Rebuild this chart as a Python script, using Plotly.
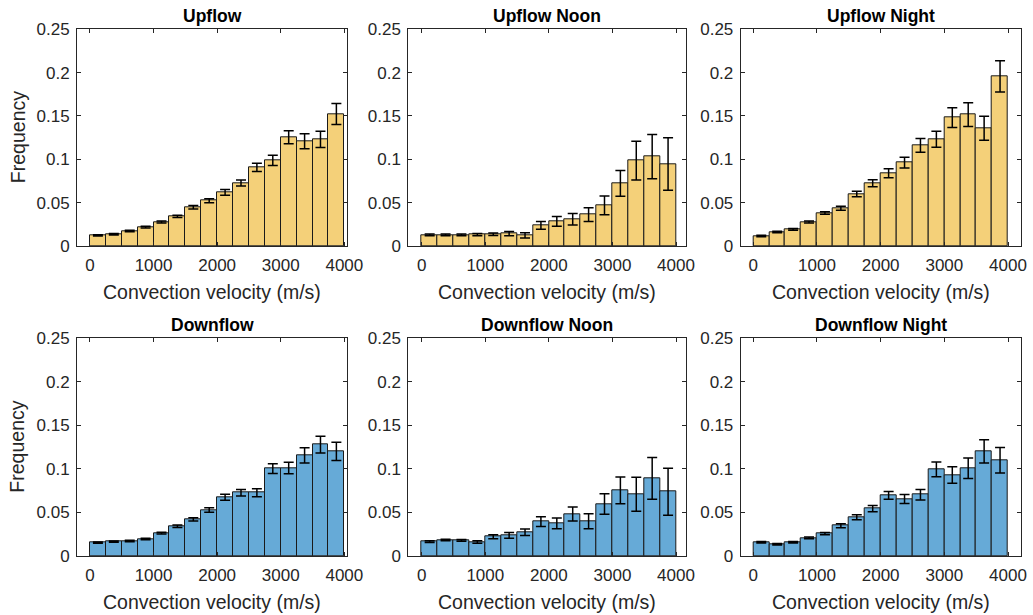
import plotly.graph_objects as go

# ---------------- data ----------------
bin_centers = [125, 375, 625, 875, 1125, 1375, 1625, 1875, 2125, 2375, 2625, 2875, 3125, 3375, 3625, 3875]
bin_width = 250

titles = ["Upflow", "Upflow Noon", "Upflow Night", "Downflow", "Downflow Noon", "Downflow Night"]

upflow = [0.0123, 0.0135, 0.0173, 0.0219, 0.0277, 0.0342, 0.0446, 0.0523,
          0.0619, 0.0727, 0.0908, 0.0988, 0.1254, 0.1208, 0.1231, 0.1523]
upflow_err = [0.0008, 0.0008, 0.0009, 0.0010, 0.0012, 0.0014, 0.0020, 0.0023,
              0.0033, 0.0035, 0.0048, 0.0058, 0.0075, 0.0087, 0.0094, 0.0120]

upflow_noon = [0.0127, 0.0127, 0.0127, 0.0130, 0.0135, 0.0142, 0.0123, 0.0238,
               0.0285, 0.0308, 0.0362, 0.0469, 0.0723, 0.0985, 0.1031, 0.0946]
upflow_noon_err = [0.0010, 0.0010, 0.0010, 0.0013, 0.0015, 0.0025, 0.0030, 0.0044,
                   0.0056, 0.0067, 0.0080, 0.0108, 0.0148, 0.0223, 0.0254, 0.0304]

upflow_night = [0.0115, 0.0162, 0.0192, 0.0277, 0.0381, 0.0435, 0.0600, 0.0723,
                0.0838, 0.0962, 0.1162, 0.1231, 0.1481, 0.1515, 0.1358, 0.1958]
upflow_night_err = [0.0009, 0.0009, 0.0010, 0.0012, 0.0015, 0.0023, 0.0033, 0.0040,
                    0.0052, 0.0063, 0.0079, 0.0092, 0.0115, 0.0137, 0.0138, 0.0180]

downflow = [0.0153, 0.0165, 0.0172, 0.0195, 0.0264, 0.0341, 0.0421, 0.0528,
            0.0674, 0.0727, 0.0727, 0.1003, 0.1011, 0.1156, 0.1279, 0.1202]
downflow_err = [0.0007, 0.0007, 0.0008, 0.0008, 0.0010, 0.0015, 0.0018, 0.0027,
                0.0034, 0.0038, 0.0046, 0.0057, 0.0067, 0.0088, 0.0096, 0.0105]

downflow_noon = [0.0165, 0.0184, 0.0180, 0.0161, 0.0222, 0.0237, 0.0272, 0.0394,
                 0.0375, 0.0482, 0.0398, 0.0597, 0.0754, 0.0708, 0.0892, 0.0739]
downflow_noon_err = [0.0010, 0.0008, 0.0010, 0.0015, 0.0023, 0.0033, 0.0038, 0.0056,
                     0.0061, 0.0080, 0.0086, 0.0117, 0.0153, 0.0195, 0.0240, 0.0270]

downflow_night = [0.0157, 0.0134, 0.0157, 0.0207, 0.0257, 0.0348, 0.0444, 0.0544,
                  0.0697, 0.0655, 0.0704, 0.0995, 0.0930, 0.1007, 0.1202, 0.1099]
downflow_night_err = [0.0009, 0.0009, 0.0009, 0.0010, 0.0012, 0.0023, 0.0029, 0.0036,
                      0.0044, 0.0052, 0.0061, 0.0084, 0.0094, 0.0117, 0.0134, 0.0147]

series = [upflow, upflow_noon, upflow_night, downflow, downflow_noon, downflow_night]
errors = [upflow_err, upflow_noon_err, upflow_night_err, downflow_err, downflow_noon_err, downflow_night_err]

yticks = [0, 0.05, 0.1, 0.15, 0.2, 0.25]
ytick_text = ["0", "0.05", "0.1", "0.15", "0.2", "0.25"]
xticks = [0, 1000, 2000, 3000, 4000]
xtick_text = ["0", "1000", "2000", "3000", "4000"]
x_label = "Convection velocity (m/s)"
y_label = "Frequency"

# ---------------- layout ----------------
W, H = 1033, 615
FONT = "Liberation Sans, Arial, Helvetica, sans-serif"
TXT = "#262626"
yellow = "#F4D079"
blue = "#66AAD7"

# pixel boxes for columns / rows
col_px = [(77, 347), (408.3, 686), (740.7, 1021)]
col_range = [(-204, 4042), (-211, 4157), (-198, 4204)]
row_px = [(29.3, 246), (338.3, 556)]

fig = go.Figure()
annotations = []
layout_axes = {}

for i in range(6):
    r, c = divmod(i, 3)
    ax = "" if i == 0 else str(i + 1)
    color = yellow if r == 0 else blue
    fig.add_trace(go.Bar(
        x=bin_centers, y=series[i], width=bin_width,
        marker=dict(color=color, line=dict(color="#1a1a1a", width=1)),
        error_y=dict(type="data", array=errors[i], color="black", thickness=1.5, width=5),
        xaxis="x" + ax, yaxis="y" + ax, showlegend=False, hoverinfo="skip"))
    x0, x1 = col_px[c]
    yt, yb = row_px[r]
    layout_axes["xaxis" + ax] = dict(
        domain=[x0 / W, x1 / W], anchor="y" + ax, range=list(col_range[c]),
        tickvals=xticks, ticktext=xtick_text, ticks="inside", ticklen=4,
        tickcolor=TXT, showline=True, linecolor=TXT, linewidth=1, mirror="ticks",
        showgrid=False, zeroline=False, automargin=False, ticklabelstandoff=4,
        tickfont=dict(family=FONT, size=17, color=TXT))
    layout_axes["yaxis" + ax] = dict(
        domain=[1 - yb / H, 1 - yt / H], anchor="x" + ax, range=[0, 0.25],
        tickvals=yticks, ticktext=ytick_text, ticks="inside", ticklen=4,
        tickcolor=TXT, showline=True, linecolor=TXT, linewidth=1, mirror="ticks",
        showgrid=False, zeroline=False, automargin=False, ticklabelstandoff=3,
        tickfont=dict(family=FONT, size=17, color=TXT))
    cx = (x0 + x1) / 2 / W
    annotations.append(dict(text="<b>" + titles[i] + "</b>", x=cx, y=1 - (yt - 13) / H,
                            xref="paper", yref="paper", xanchor="center", yanchor="middle",
                            showarrow=False, font=dict(family=FONT, size=17.5, color="black")))
    annotations.append(dict(text=x_label, x=cx, y=1 - (yb + 45.5) / H,
                            xref="paper", yref="paper", xanchor="center", yanchor="middle",
                            showarrow=False, font=dict(family=FONT, size=19.5, color=TXT)))
    if c == 0:
        annotations.append(dict(text=y_label, x=17.5 / W, y=1 - (yt + yb) / 2 / H,
                                xref="paper", yref="paper", xanchor="center", yanchor="middle",
                                textangle=-90, showarrow=False,
                                font=dict(family=FONT, size=19.5, color=TXT)))

fig.update_layout(width=W, height=H, margin=dict(l=0, r=0, t=0, b=0, autoexpand=False),
                  paper_bgcolor="white", plot_bgcolor="white", bargap=0,
                  annotations=annotations, **layout_axes)

fig.write_html("out.html")
